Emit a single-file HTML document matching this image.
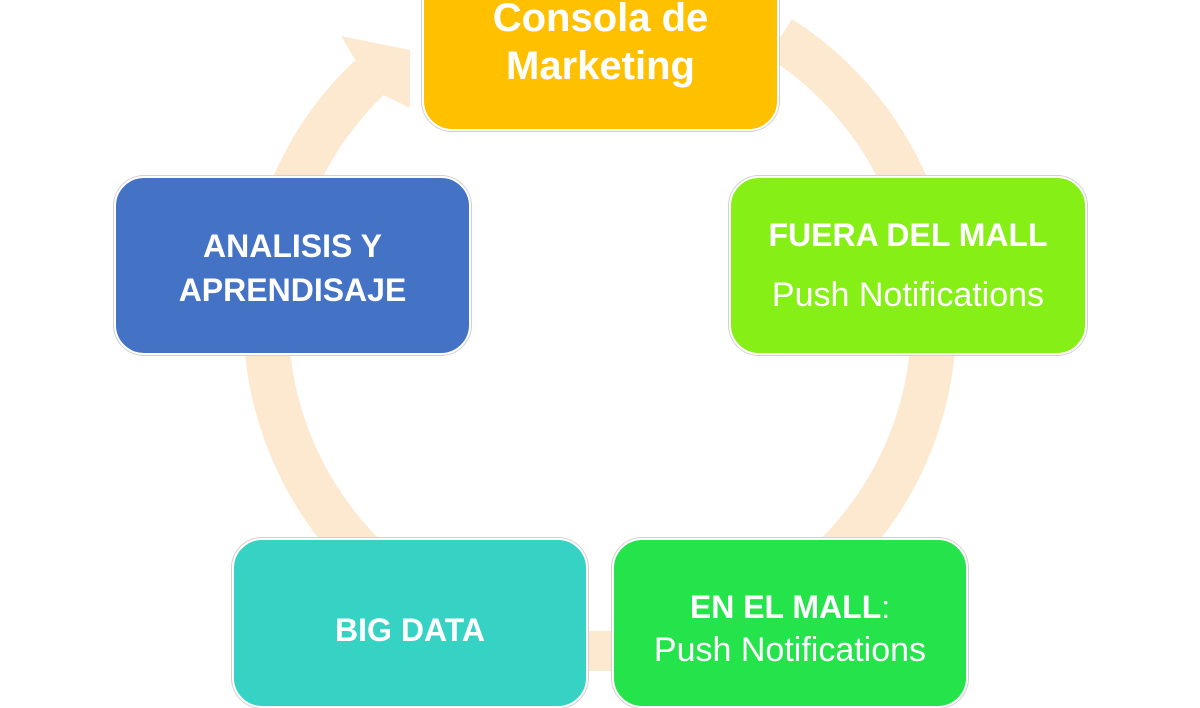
<!DOCTYPE html>
<html><head><meta charset="utf-8"><style>
body{margin:0;width:1200px;height:671px;overflow:hidden;background:#fff;position:relative;font-family:"Liberation Sans",sans-serif}
svg{position:absolute;left:0;top:0}
.b{position:absolute;border-radius:30px;border:2px solid #fff;box-shadow:0 0 0 1px #d0d0d0;color:#fff;text-align:center;box-sizing:border-box}
.t{position:absolute;left:0;right:0;white-space:nowrap}
.bold{font-weight:bold}
</style></head><body>
<svg width="1200" height="671">
<path d="M370,77 A334 334 0 1 0 780,38" fill="none" stroke="#fde8d0" stroke-width="45"/>
<polygon points="341,36 410,50 410,108 373,90" fill="#fde8d0"/>
</svg>
<div class="b" style="left:422px;top:-40px;width:357px;height:171px;background:#ffc000">
<div class="t bold" style="top:32px;font-size:40px;line-height:48px">Consola de<br>Marketing</div></div>
<div class="b" style="left:114px;top:176px;width:357px;height:179px;background:#4472c4">
<div class="t bold" style="top:46px;font-size:32px;line-height:44px">ANALISIS Y<br>APRENDISAJE</div></div>
<div class="b" style="left:729px;top:176px;width:358px;height:179px;background:#86f016">
<div class="t bold" style="top:37px;font-size:32px;line-height:40px">FUERA DEL MALL</div>
<div class="t" style="top:97px;font-size:34px;line-height:40px">Push Notifications</div></div>
<div class="b" style="left:232px;top:538px;width:356px;height:170px;background:#36d3c4">
<div class="t bold" style="top:70px;font-size:32px;line-height:40px">BIG DATA</div></div>
<div class="b" style="left:612px;top:538px;width:356px;height:170px;background:#24e34b">
<div class="t" style="top:47px;font-size:32px;line-height:40px"><b>EN EL MALL</b>:</div>
<div class="t" style="top:90px;font-size:34px;line-height:40px">Push Notifications</div></div>
</body></html>
